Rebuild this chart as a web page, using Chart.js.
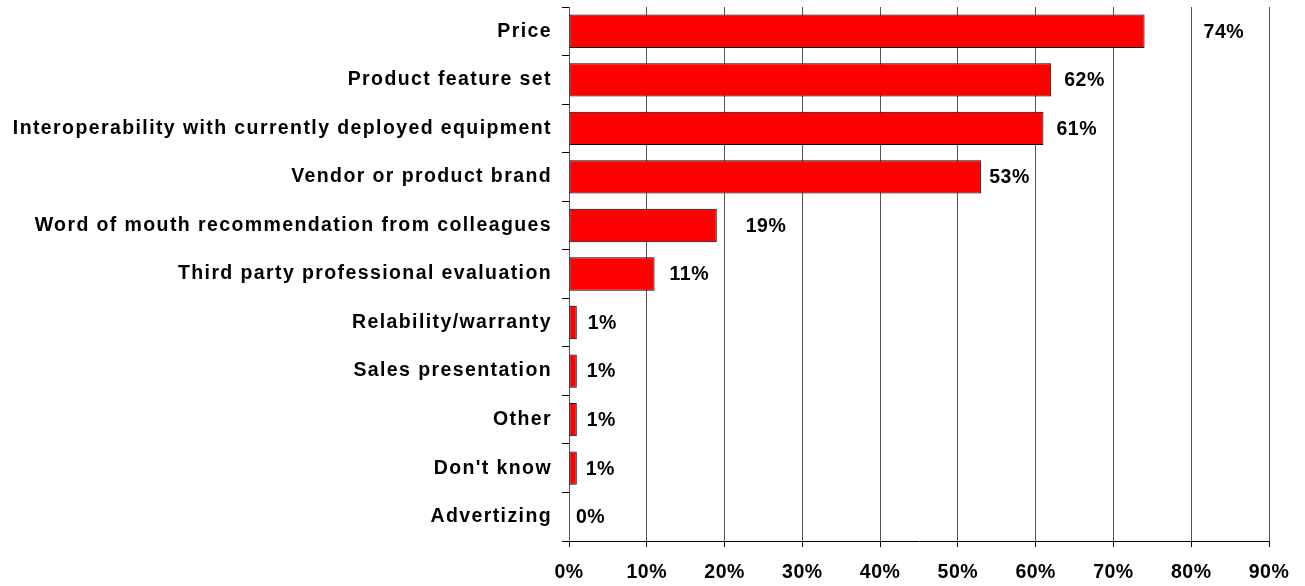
<!DOCTYPE html>
<html>
<head>
<meta charset="utf-8">
<script src="https://cdn.jsdelivr.net/npm/chart.js@4"></script>
<style>
  html, body { margin: 0; padding: 0; background: #fff; }
  #wrap { width: 1305px; height: 586px; }
</style>
</head>
<body>
<div id="wrap"><canvas id="chartFactors"></canvas></div>
<script>
// Purchase decision factors
const categories = [
  'Price',
  'Product feature set',
  'Interoperability with currently deployed equipment',
  'Vendor or product brand',
  'Word of mouth recommendation from colleagues',
  'Third party professional evaluation',
  'Relability/warranty',
  'Sales presentation',
  'Other',
  "Don't know",
  'Advertizing'
];
const shares = [74, 62, 61, 53, 19, 11, 1, 1, 1, 1, 0];
const axisTicks = [0, 10, 20, 30, 40, 50, 60, 70, 80, 90];

// label gap (px) from bar end, as placed in the original
const labelGap = [59, 13, 13, 8, 29, 15, 11, 10, 10, 9, 7];

const FONT = '"Liberation Sans", Arial, sans-serif';
Chart.defaults.color = '#000';
Chart.defaults.font.family = FONT;

// wider letter spacing on axis labels
const spacingPlugin = {
  id: 'spacing',
  afterLayout(chart) {
    [['y', '1.4px'], ['x', '0.5px']].forEach(([id, sp]) => {
      const s = chart.scales[id];
      if (s._spaced) return;
      const orig = s.drawLabels.bind(s);
      s.drawLabels = function (area) {
        const c = chart.ctx;
        c.save();
        c.letterSpacing = sp;
        orig(area);
        c.restore();
      };
      s._spaced = true;
    });
  }
};

const valueLabels = {
  id: 'valueLabels',
  afterDatasetsDraw(chart) {
    const ctx = chart.ctx;
    const meta = chart.getDatasetMeta(0);
    ctx.save();
    ctx.letterSpacing = '0.5px';
    ctx.font = 'bold 19.5px ' + FONT;
    ctx.fillStyle = '#000';
    ctx.textAlign = 'left';
    ctx.textBaseline = 'middle';
    meta.data.forEach((bar, i) => {
      ctx.fillText(shares[i] + '%', bar.x + labelGap[i], bar.y + 1);
    });
    ctx.restore();
  }
};

new Chart(document.getElementById('chartFactors'), {
  type: 'bar',
  data: {
    labels: categories,
    datasets: [{
      data: shares,
      backgroundColor: '#FF0000',
      borderColor: '#000',
      borderWidth: (c) => (c.raw === 0 ? 0 : 1),
      borderSkipped: false,
      barPercentage: 0.687,
      categoryPercentage: 1
    }]
  },
  options: {
    indexAxis: 'y',
    responsive: true,
    maintainAspectRatio: false,
    animation: false,
    layout: { padding: { top: 7, right: 36, left: 0, bottom: 0 } },
    plugins: {
      legend: { display: false },
      tooltip: { enabled: false }
    },
    scales: {
      x: {
        min: 0,
        max: 90,
        afterBuildTicks: (s) => { s.ticks = axisTicks.map(v => ({ value: v })); },
        afterFit: (s) => { s.height = 45; },
        grid: {
          color: '#555',
          lineWidth: 1,
          drawTicks: true,
          tickLength: 6,
          tickColor: '#000'
        },
        border: { color: '#000', width: 1 },
        ticks: {
          padding: 14,
          font: { size: 19.5, weight: 'bold' },
          callback: (v) => v + '%'
        }
      },
      y: {
        afterFit: (s) => {
          s.width = 569;
          s.paddingTop = 0;
          s.paddingBottom = 0;
        },
        grid: {
          drawOnChartArea: false,
          drawTicks: true,
          tickLength: 7,
          tickColor: '#000'
        },
        border: { color: '#555', width: 1 },
        ticks: {
          padding: 10,
          font: { size: 19.5, weight: 'bold' }
        }
      }
    }
  },
  plugins: [spacingPlugin, valueLabels]
});
</script>
</body>
</html>
